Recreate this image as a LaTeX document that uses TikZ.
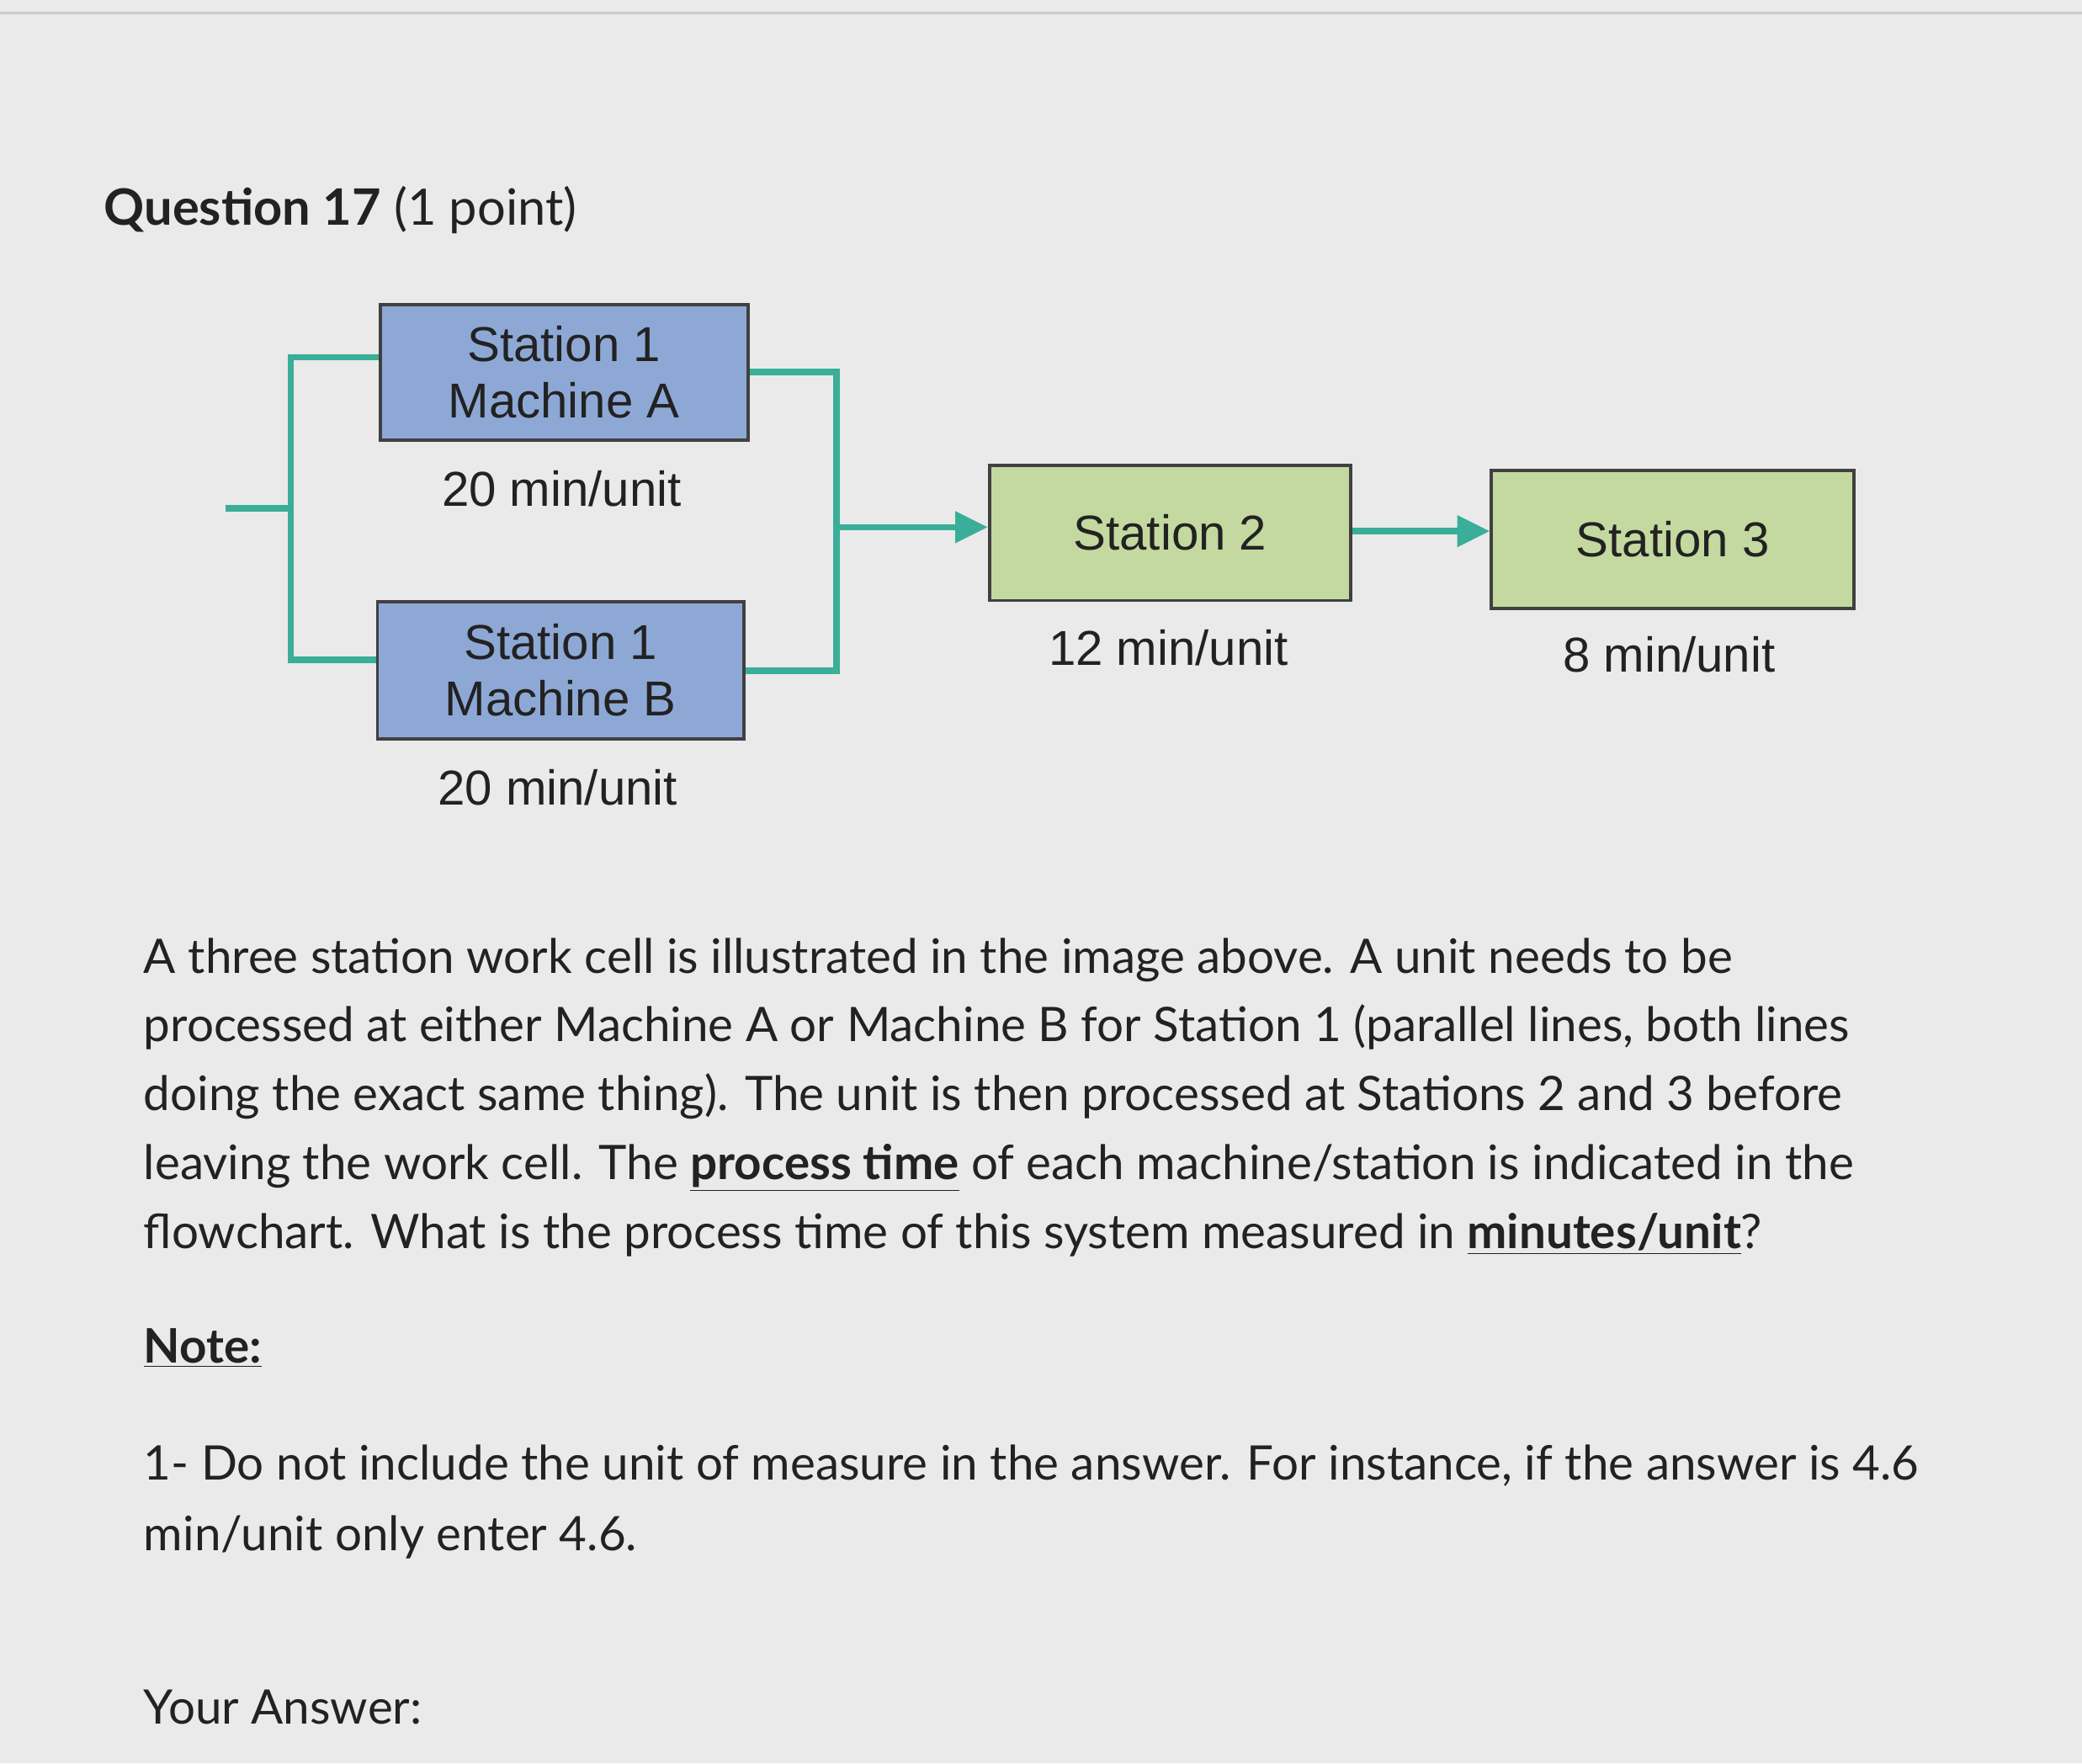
\documentclass[tikz,border=0pt]{standalone}
\usepackage{fontspec}
\setmainfont{Lato}
\newfontfamily\diag{Liberation Sans}
\usetikzlibrary{arrows.meta}
\definecolor{bg}{HTML}{EAEAEA}
\definecolor{bluebox}{HTML}{8EA8D6}
\definecolor{greenbox}{HTML}{C4D9A0}
\definecolor{teal}{HTML}{3AAE98}
\definecolor{txt}{HTML}{222222}
\tikzset{
 box/.style={draw=black!75, line width=1.4pt, anchor=north west, inner sep=0pt, font=\diag\fontsize{21}{24}\selectfont, align=center, text=txt},
 lbl/.style={font=\diag\fontsize{21}{24}\selectfont, text=txt},
 conn/.style={draw=teal, line width=2.8pt},
 arr/.style={conn, -{Triangle[length=14pt,width=13pt]}},
 para/.style={anchor=north west, align=left, font=\fontsize{20.4}{29.5}\selectfont, text=txt, inner sep=0pt}
}
\begin{document}
\begin{tikzpicture}[x=0.02cm,y=-0.02cm]
\fill[bg] (0,0) rectangle (1568,1328);
\useasboundingbox (0,0) rectangle (1568,1328);
\draw[black!20, line width=1pt] (0,10) -- (1568,10);
\node[anchor=west, font=\fontsize{21.5}{24}\selectfont, text=txt, inner sep=0pt] (q) at (78,158) {\textbf{Question 17} (1 point)};
% boxes
\node[box, fill=bluebox, minimum width=277*0.02cm, minimum height=102*0.02cm] (A) at (285,228) {Station 1\\Machine A};
\node[box, fill=bluebox, minimum width=276*0.02cm, minimum height=103*0.02cm] (B) at (283,452) {Station 1\\Machine B};
\node[box, fill=greenbox, minimum width=272*0.02cm, minimum height=102*0.02cm] (S2) at (744,349) {Station 2};
\node[box, fill=greenbox, minimum width=273*0.02cm, minimum height=104*0.02cm] (S3) at (1122,353) {Station 3};
\node[lbl] (tA) at (423,368) {20 min/unit};
\node[lbl] (tB) at (420,593) {20 min/unit};
\node[lbl] (t2) at (880,488) {12 min/unit};
\node[lbl] (t3) at (1257,493) {8 min/unit};
% connectors
\coordinate (in) at (170,383);
\coordinate (sp) at (219,383);
\coordinate (mg) at (630,397);
\draw[conn] (in) -- (sp);
\draw[conn] (A.west |- 0,269) -| (219,497) -- (B.west |- 0,497);
\draw[conn] (A.east |- 0,280) -| (630,505) -- (B.east |- 0,505);
\draw[arr] (mg) -- (S2.west |- mg);
\draw[arr] (S2.east |- 0,400) -- (S3.west |- 0,400);
% text
\node[para] (p) at (108,706) {A three station work cell is illustrated in the image above. A unit needs to be\\
processed at either Machine A or Machine B for Station 1 (parallel lines, both lines\\
doing the exact same thing). The unit is then processed at Stations 2 and 3 before\\
leaving the work cell. The \underline{\textbf{process time}} of each machine/station is indicated in the\\
flowchart. What is the process time of this system measured in \underline{\textbf{minutes/unit}}?};
\node[para] (n) at (108,1000) {\underline{\textbf{Note:}}};
\node[para, font=\fontsize{20.4}{30}\selectfont] (n1) at (108,1088) {1- Do not include the unit of measure in the answer. For instance, if the answer is 4.6\\min/unit only enter 4.6.};
\node[para] (ya) at (108,1272) {Your Answer:};
\end{tikzpicture}
\end{document}
